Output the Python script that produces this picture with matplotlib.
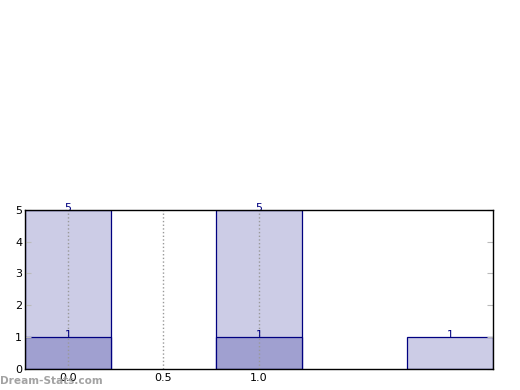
import matplotlib
matplotlib.use("Agg")
import matplotlib.pyplot as plt

positions = [0, 1, 2]
totals = [5, 5, 1]
subset_pos = [0, 1]
subset = [1, 1]
xticks = [0.0, 0.5, 1.0]

fig = plt.figure(figsize=(5.2, 3.9), dpi=100)
ax = fig.add_axes([0.048, 0.054, 0.9, 0.408])

width = 0.45
ax.bar(positions, totals, width=width, color="#ccccE6", edgecolor="#000080", linewidth=0.9, zorder=1)
ax.bar(subset_pos, subset, width=width, color="#a0a0d0", edgecolor="#000080", linewidth=0.9, zorder=1.5)

# value labels sit slightly over the bar top
for x, v in zip(positions + subset_pos, totals + subset):
    ax.annotate(str(v), (x, v), xytext=(0, -2), textcoords="offset points",
                ha="center", va="bottom", color="#000080", fontsize=8, zorder=5)

ax.set_xlim(-0.225, 2.225)
ax.set_ylim(0, 5)
ax.set_xticks(xticks)
ax.set_xticklabels(["0.0", "0.5", "1.0"])
ax.set_yticks(range(6))
ax.tick_params(axis="both", direction="in", color="#bbbbbb", labelsize=8, length=4,
               right=True, top=False, pad=2)
ax.tick_params(axis="x", length=0, pad=3)
ax.set_axisbelow(False)
ax.grid(axis="x", linestyle=":", color="#999999", linewidth=1)
for s in ax.spines.values():
    s.set_linewidth(1)
    s.set_zorder(6)

fig.text(0.0, 0.01, "Dream-Stats.com", color="#999999", fontsize=7.6, fontweight="bold",
         ha="left", va="bottom", alpha=0.9)

fig.savefig("out.png", dpi=100)
